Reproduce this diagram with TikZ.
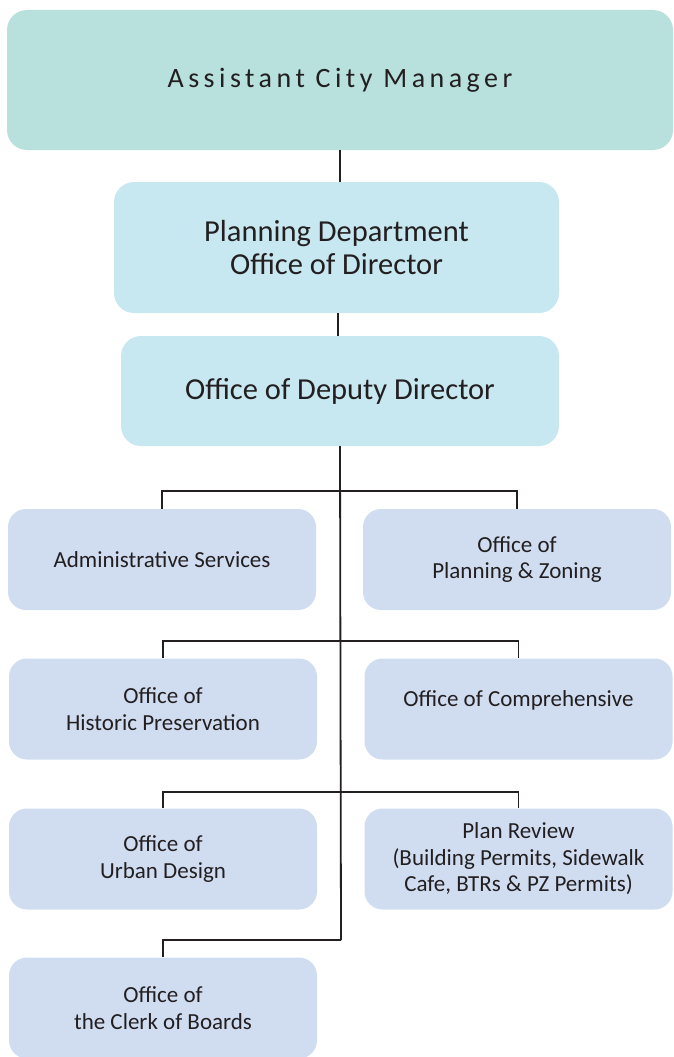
\documentclass[tikz,border=0pt]{standalone}
\usepackage{fontspec}
\setmainfont{Carlito}
\newfontfamily\titlefont[LetterSpace=16]{Carlito}
\definecolor{topc}{HTML}{B8E0DD}
\definecolor{midc}{HTML}{C8E8F1}
\definecolor{subc}{HTML}{D0DDF1}
\definecolor{ink}{HTML}{231F20}
\begin{document}
\begin{tikzpicture}[x=1pt,y=-1pt,
  box/.style={rounded corners=20pt, inner sep=0pt, align=center, text=ink},
  subbox/.style={box, fill=subc, rounded corners=18pt, minimum width=308pt, minimum height=101pt, font=\fontsize{23}{26.5}\selectfont},
  link/.style={draw=ink, line width=1.8pt}]
\useasboundingbox (0,0) rectangle (673,1057);
\node[box, fill=topc, minimum width=666pt, minimum height=140pt, font=\titlefont\fontsize{28}{30}\selectfont] (acm) at (340,80) {Assistant City Manager};
\node[box, fill=midc, minimum width=445pt, minimum height=131pt, font=\fontsize{30.5}{33}\selectfont] (pd) at (336.5,247.5) {Planning Department\\Office of Director};
\node[box, fill=midc, minimum width=438pt, minimum height=110pt, font=\fontsize{30.5}{33}\selectfont] (dd) at (340,391) {Office of Deputy Director};
\node[subbox] (adm) at (162,559.5) {Administrative Services};
\node[subbox] (pz) at (517,559.5) {Office of\\Planning \& Zoning};
\node[subbox] (hp) at (163,709) {Office of\\Historic Preservation};
\node[subbox, text depth=21pt] (cp) at (518.5,709) {Office of Comprehensive};
\node[subbox] (ud) at (163,859) {Office of\\Urban Design};
\node[subbox] (pr) at (518.5,859) {Plan Review\\(Building Permits, Sidewalk\\Cafe, BTRs \& PZ Permits)};
\node[subbox] (cb) at (163,1008) {Office of\\the Clerk of Boards};
\coordinate (b1) at (340,491);
\coordinate (b2) at (340,641);
\coordinate (b3) at (340,792);
\coordinate (b4) at (341,940);
\draw[link] (acm.south) -- (acm.south |- pd.north);
\draw[link] ([xshift=1.5pt]pd.south) -- ([xshift=1.5pt]pd.south |- dd.north);
\draw[link] (dd.south) -- (b4);
\draw[link] (adm.north) -- (adm.north |- b1) -- (pz.north |- b1) -- (pz.north);
\draw[link] (hp.north) -- (hp.north |- b2) -- (cp.north |- b2) -- (cp.north);
\draw[link] (ud.north) -- (ud.north |- b3) -- (pr.north |- b3) -- (pr.north);
\draw[link] (b4) -- (cb.north |- b4) -- (cb.north);
\end{tikzpicture}
\end{document}
